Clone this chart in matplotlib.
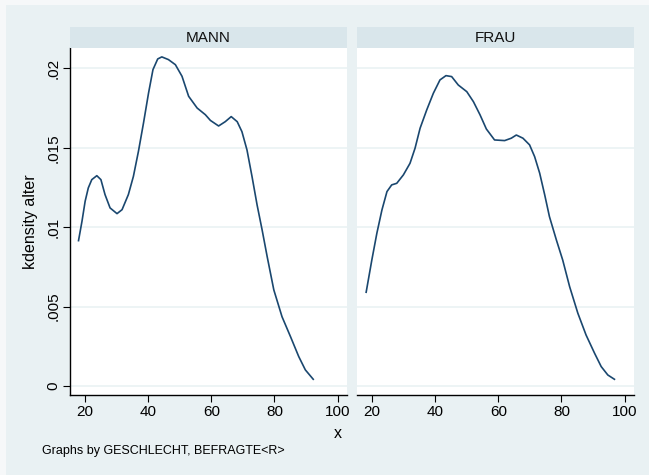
import matplotlib
matplotlib.use("Agg")
import matplotlib.pyplot as plt
from matplotlib.patches import Rectangle

plt.rcParams["font.family"] = ["Liberation Sans", "DejaVu Sans"]

# kdensity of age
mann_x = [17.9, 19.0, 20.0, 21.0, 22.1, 23.7, 25.0, 26.3, 27.9, 30.1, 31.7, 33.7,
          35.3, 36.9, 38.5, 40.1, 41.5, 43.0, 44.3, 46.4, 48.6, 50.7, 52.8, 55.5,
          58.1, 59.7, 62.3, 64.4, 66.3, 68.2, 69.7, 71.3, 72.9, 74.5, 76.1, 77.7,
          79.8, 82.4, 85.1, 87.7, 89.8, 92.3]
mann_y = [0.00915, 0.01037, 0.01163, 0.01247, 0.01299, 0.01324, 0.01299, 0.01205,
          0.01121, 0.01085, 0.0111, 0.01205, 0.0132, 0.01478, 0.01656, 0.01845,
          0.01992, 0.02059, 0.02072, 0.02055, 0.02023, 0.0195, 0.01824, 0.0175,
          0.01708, 0.01672, 0.01637, 0.01664, 0.01696, 0.01664, 0.01601, 0.01486,
          0.01318, 0.0114, 0.00982, 0.00814, 0.00605, 0.00436, 0.0031, 0.00185,
          0.00101, 0.00042]

frau_x = [18.1, 19.9, 21.5, 23.1, 24.7, 26.2, 27.8, 29.9, 32.0, 33.6, 35.2, 37.3,
          39.4, 41.5, 43.4, 45.2, 47.3, 50.0, 52.1, 54.2, 56.2, 58.8, 62.0, 64.1,
          65.7, 67.8, 69.9, 71.5, 73.1, 74.7, 76.2, 78.4, 80.4, 82.6, 85.2, 87.8,
          90.5, 92.6, 94.7, 96.8]
frau_y = [0.0059, 0.00793, 0.00962, 0.01108, 0.01224, 0.01266, 0.01276, 0.01329,
          0.01402, 0.01497, 0.01623, 0.01738, 0.01843, 0.01927, 0.01954, 0.01948,
          0.01895, 0.01853, 0.0179, 0.01707, 0.01618, 0.01549, 0.01545, 0.0156,
          0.0158, 0.0156, 0.01518, 0.01444, 0.0134, 0.01203, 0.01066, 0.00919,
          0.00793, 0.00625, 0.00458, 0.00321, 0.00206, 0.00122, 0.00069, 0.00042]

panels = ["MANN", "FRAU"]
x_ticks = [20, 40, 60, 80, 100]
y_ticks = [0, 0.005, 0.01, 0.015, 0.02]
y_labels = ["0", ".005", ".01", ".015", ".02"]

W, H = 649, 475
bg = "#E9F1F3"
strip = "#D9E6EB"
line_col = "#1A476F"

fig = plt.figure(figsize=(W / 100, H / 100), dpi=100)
fig.patch.set_facecolor("#F6F8F9")
fig.patches.append(Rectangle((6 / W, 0), 1, 1 - 5 / H, transform=fig.transFigure,
                             facecolor=bg, edgecolor="none", zorder=-5))

lefts = [70, 357]
pw = 277
top, bottom, strip_top = 48, 395, 27
data = [(mann_x, mann_y), (frau_x, frau_y)]

for i, (name, (xs, ys)) in enumerate(zip(panels, data)):
    ax = fig.add_axes([lefts[i] / W, 1 - bottom / H, pw / W, (bottom - top) / H])
    ax.set_facecolor("white")
    ax.plot(xs, ys, color=line_col, lw=1.2)
    ax.set_xlim(15.2, 103.0)
    ax.set_ylim(-0.00057, 0.02128)
    ax.set_xticks(x_ticks)
    ax.set_yticks(y_ticks)
    for t in y_ticks:
        ax.axhline(t, color="#EAF2F3", lw=1.2, zorder=0)
    for s in ["top", "right"]:
        ax.spines[s].set_visible(False)
    ax.spines["bottom"].set_color("black")
    ax.spines["bottom"].set_linewidth(1.0)
    ax.tick_params(axis="x", direction="out", length=5, width=0.8, labelsize=11, pad=2)
    if i == 0:
        ax.spines["left"].set_color("black")
        ax.spines["left"].set_linewidth(1.0)
        ax.set_yticklabels(y_labels, rotation=90, va="center")
        ax.tick_params(axis="y", direction="out", length=5, width=0.8, labelsize=11, pad=2)
        ax.set_ylabel("kdensity alter", fontsize=11.5, labelpad=6)
    else:
        ax.spines["left"].set_visible(False)
        ax.tick_params(axis="y", left=False, labelleft=False)
    # strip header
    fig.patches.append(Rectangle((lefts[i] / W, 1 - top / H), pw / W, (top - strip_top) / H,
                                 transform=fig.transFigure, facecolor=strip,
                                 edgecolor="none", zorder=1))
    fig.text((lefts[i] + pw / 2) / W, 1 - (top + strip_top) / 2 / H, name,
             ha="center", va="center", fontsize=11, color="#111111")

fig.text(338 / W, 1 - 433 / H, "x", ha="center", va="center", fontsize=11.5)
fig.text(42 / W, 1 - 451 / H, "Graphs by GESCHLECHT, BEFRAGTE<R>", ha="left",
         va="center", fontsize=9)

fig.savefig("out.png", dpi=100, facecolor=fig.get_facecolor())
